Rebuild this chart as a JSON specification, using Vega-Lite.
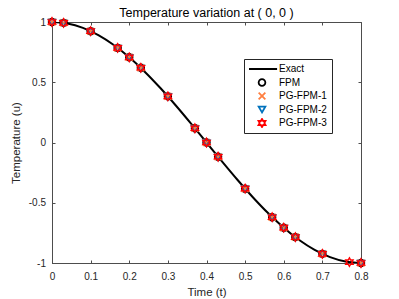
{
  "$schema": "https://vega.github.io/schema/vega-lite/v6.json",
  "width": 309,
  "height": 241,
  "autosize": {"type": "none"},
  "padding": {"left": 52, "top": 22, "right": 38, "bottom": 36},
  "title": {"text": "Temperature variation at ( 0, 0 )", "fontSize": 12.5, "fontWeight": "normal", "font": "Liberation Sans", "color": "#000000", "offset": -4.5},
  "config": {
    "font": "Liberation Sans",
    "view": {"stroke": "#4d4d4d", "strokeWidth": 1},
    "axis": {"domainColor": "#4d4d4d", "tickColor": "#4d4d4d", "labelColor": "#262626", "titleColor": "#262626", "labelFontSize": 10, "titleFontSize": 11.5, "titleFontWeight": "normal", "grid": false, "tickSize": -3, "labelFont": "Liberation Sans", "titleFont": "Liberation Sans", "labelFlush": false, "labelOverlap": false, "labelBound": false},
    "legend": {"labelFontSize": 10, "labelColor": "#000000", "labelFont": "Liberation Sans", "strokeColor": "#262626", "fillColor": "#ffffff", "padding": 5, "rowPadding": 3.5, "clipHeight": 10, "symbolSize": 45, "symbolOpacity": 1, "symbolStrokeWidth": 1.8, "symbolOffset": 8, "labelOffset": 12}
  },
  "datasets": {
    "exact": [
      {"t": 0, "u": 1}, {"t": 0.04, "u": 0.9877}, {"t": 0.08, "u": 0.9511}, {"t": 0.12, "u": 0.891},
      {"t": 0.16, "u": 0.809}, {"t": 0.2, "u": 0.7071}, {"t": 0.24, "u": 0.5878}, {"t": 0.28, "u": 0.454},
      {"t": 0.32, "u": 0.309}, {"t": 0.36, "u": 0.1564}, {"t": 0.4, "u": 0}, {"t": 0.44, "u": -0.1564},
      {"t": 0.48, "u": -0.309}, {"t": 0.52, "u": -0.454}, {"t": 0.56, "u": -0.5878}, {"t": 0.6, "u": -0.7071},
      {"t": 0.64, "u": -0.809}, {"t": 0.68, "u": -0.891}, {"t": 0.72, "u": -0.9511}, {"t": 0.76, "u": -0.9877},
      {"t": 0.8, "u": -1}
    ],
    "pts": [
      {"t": 0, "FPM": 1, "PG-FPM-1": 1, "PG-FPM-2": 0.995, "PG-FPM-3": 1},
      {"t": 0.03, "FPM": 0.993, "PG-FPM-1": 0.993, "PG-FPM-2": 0.988, "PG-FPM-3": 0.993},
      {"t": 0.1, "FPM": 0.924, "PG-FPM-1": 0.924, "PG-FPM-2": 0.918, "PG-FPM-3": 0.924},
      {"t": 0.17, "FPM": 0.785, "PG-FPM-1": 0.785, "PG-FPM-2": 0.78, "PG-FPM-3": 0.785},
      {"t": 0.2, "FPM": 0.707, "PG-FPM-1": 0.707, "PG-FPM-2": 0.702, "PG-FPM-3": 0.707},
      {"t": 0.23, "FPM": 0.62, "PG-FPM-1": 0.62, "PG-FPM-2": 0.614, "PG-FPM-3": 0.62},
      {"t": 0.3, "FPM": 0.383, "PG-FPM-1": 0.383, "PG-FPM-2": 0.377, "PG-FPM-3": 0.383},
      {"t": 0.37, "FPM": 0.118, "PG-FPM-1": 0.118, "PG-FPM-2": 0.112, "PG-FPM-3": 0.118},
      {"t": 0.4, "FPM": 0, "PG-FPM-1": 0, "PG-FPM-2": -0.006, "PG-FPM-3": 0},
      {"t": 0.43, "FPM": -0.118, "PG-FPM-1": -0.118, "PG-FPM-2": -0.124, "PG-FPM-3": -0.118},
      {"t": 0.5, "FPM": -0.383, "PG-FPM-1": -0.383, "PG-FPM-2": -0.389, "PG-FPM-3": -0.383},
      {"t": 0.57, "FPM": -0.62, "PG-FPM-1": -0.62, "PG-FPM-2": -0.626, "PG-FPM-3": -0.62},
      {"t": 0.6, "FPM": -0.707, "PG-FPM-1": -0.707, "PG-FPM-2": -0.713, "PG-FPM-3": -0.707},
      {"t": 0.63, "FPM": -0.785, "PG-FPM-1": -0.785, "PG-FPM-2": -0.791, "PG-FPM-3": -0.785},
      {"t": 0.7, "FPM": -0.924, "PG-FPM-1": -0.924, "PG-FPM-2": -0.93, "PG-FPM-3": -0.924},
      {"t": 0.77, "PG-FPM-3": -0.993},
      {"t": 0.8, "FPM": -1, "PG-FPM-1": -1, "PG-FPM-2": -1.005, "PG-FPM-3": -1}
    ]
  },
  "resolve": {"axis": {"x": "independent", "y": "independent"}},
  "layer": [
    {
      "data": {"name": "exact"},
      "mark": {"type": "line", "color": "#000000", "strokeWidth": 2, "interpolate": "monotone", "clip": true},
      "encoding": {
        "x": {"field": "t", "type": "quantitative", "scale": {"domain": [0, 0.8], "nice": false, "zero": false},
          "axis": {"orient": "top", "title": null, "labels": false, "domain": false, "values": [0, 0.1, 0.2, 0.3, 0.4, 0.5, 0.6, 0.7, 0.8]}},
        "y": {"field": "u", "type": "quantitative", "scale": {"domain": [-1, 1], "nice": false, "zero": false},
          "axis": {"orient": "right", "title": null, "labels": false, "domain": false, "values": [-1, -0.5, 0, 0.5, 1]}}
      }
    },
    {
      "data": {"name": "pts"},
      "transform": [
        {"fold": ["FPM", "PG-FPM-1", "PG-FPM-2", "PG-FPM-3"], "as": ["series", "value"]},
        {"filter": "isValid(datum.value)"}
      ],
      "mark": {"type": "point", "filled": false, "strokeWidth": 1.5, "clip": false, "opacity": 1, "size": 48},
      "encoding": {
        "x": {"field": "t", "type": "quantitative", "scale": {"domain": [0, 0.8], "nice": false, "zero": false},
          "axis": {"orient": "bottom", "title": "Time (t)", "values": [0, 0.1, 0.2, 0.3, 0.4, 0.5, 0.6, 0.7, 0.8], "labelExpr": "toString(datum.value)", "labelPadding": 11, "titlePadding": 5}},
        "y": {"field": "value", "type": "quantitative", "scale": {"domain": [-1, 1], "nice": false, "zero": false},
          "axis": {"orient": "left", "title": "Temperature (u)", "values": [-1, -0.5, 0, 0.5, 1], "labelExpr": "toString(datum.value)", "labelPadding": 9.5, "titlePadding": 7}},
        "color": {"field": "series", "type": "nominal",
          "scale": {"domain": ["Exact", "FPM", "PG-FPM-1", "PG-FPM-2", "PG-FPM-3"], "range": ["#000000", "#000000", "#FF7F40", "#0072BD", "#FF0000"]},
          "legend": {"orient": "none", "legendX": 192, "legendY": 37, "title": null}},
        "shape": {"field": "series", "type": "nominal",
          "scale": {"domain": ["Exact", "FPM", "PG-FPM-1", "PG-FPM-2", "PG-FPM-3"], "range": ["M-4.5,0L4.5,0", "circle", "M-1,-1L1,1M-1,1L1,-1", "triangle-down", "M0,-1.2L0.346,-0.6L1.039,-0.6L0.692,0L1.039,0.6L0.346,0.6L0,1.2L-0.346,0.6L-1.039,0.6L-0.692,0L-1.039,-0.6L-0.346,-0.6Z"]},
          "legend": {"orient": "none", "legendX": 192, "legendY": 37, "title": null}}
      }
    }
  ]
}
